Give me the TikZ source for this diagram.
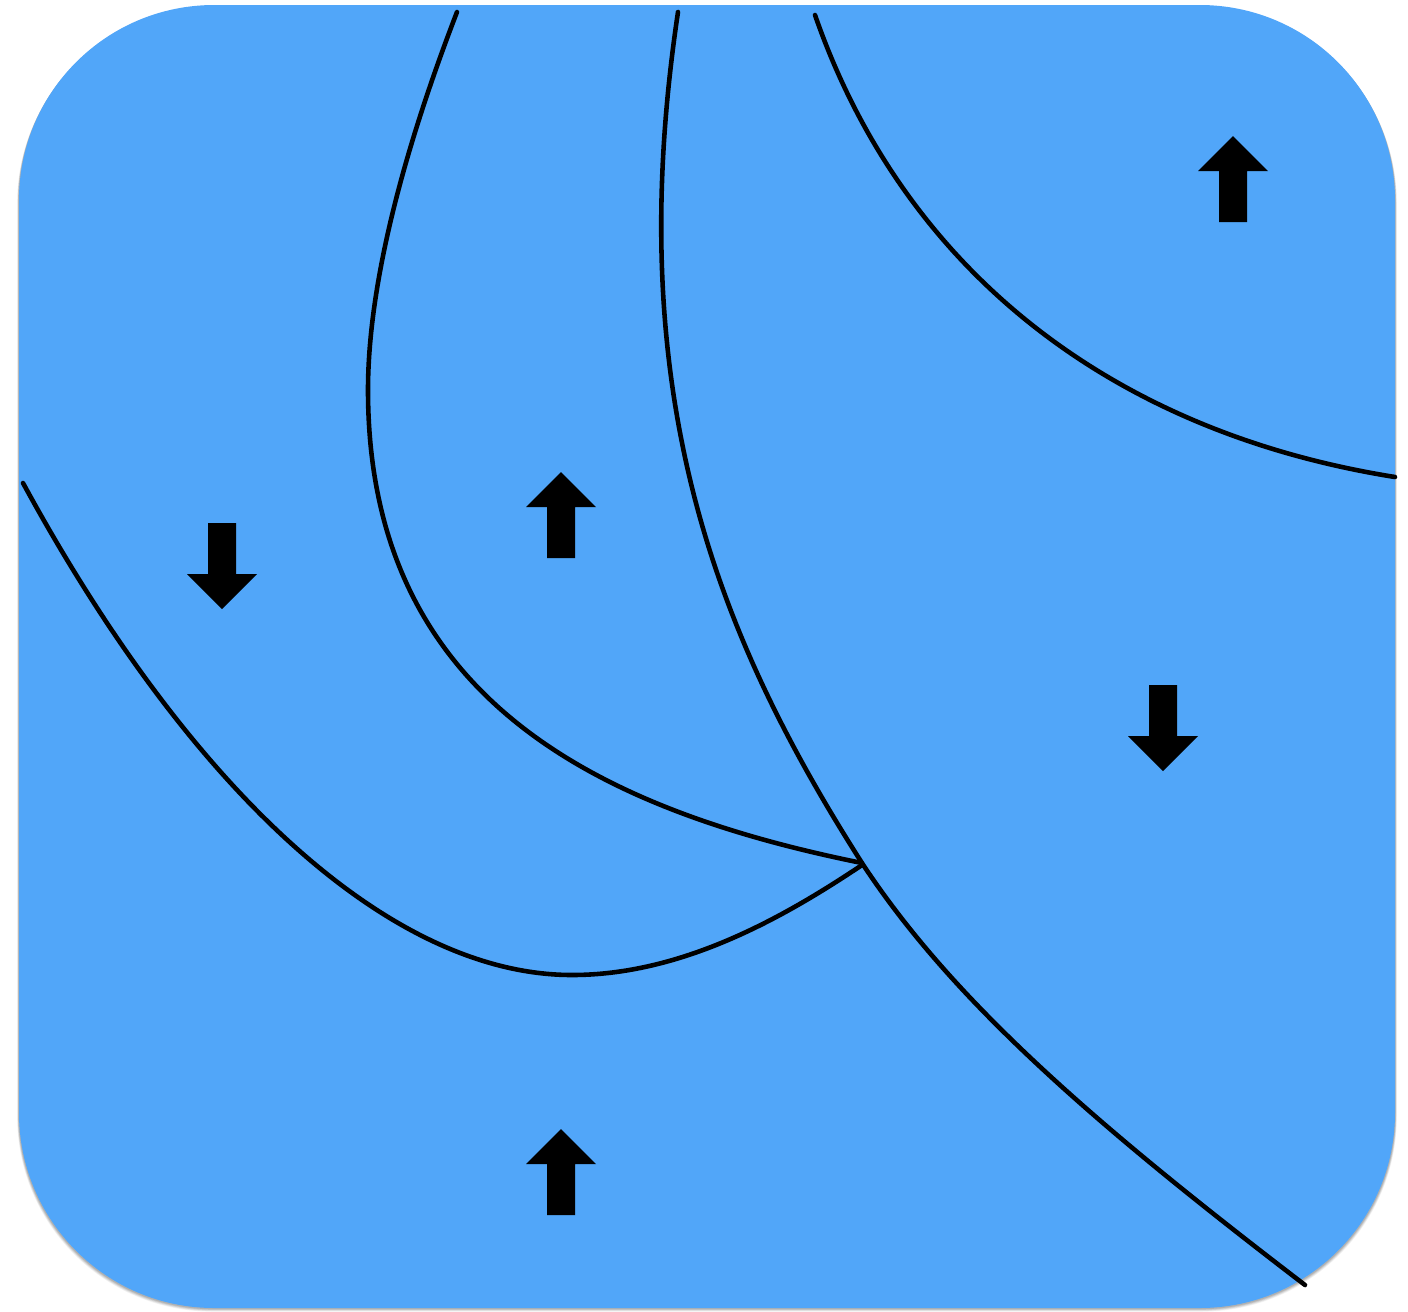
\documentclass[tikz,border=0pt]{standalone}
\begin{document}
\begin{tikzpicture}[x=0.01cm,y=-0.01cm,
  curve/.style={line width=1.3pt, line cap=round},
  panel/.style={fill=panelblue, rounded corners=1.95cm},
  pics/uparrow/.style={code={
    \fill[black] (0,-43) -- (35,-8) -- (14,-8) -- (14,43) -- (-14,43) -- (-14,-8) -- (-35,-8) -- cycle;}}]
\definecolor{panelblue}{RGB}{81,166,249}
\useasboundingbox (0,0) rectangle (1408,1311);
% soft shadow
\foreach \d/\o in {6/0.05,5/0.06,4/0.07,3/0.08,2/0.09}
  \fill[black, opacity=\o, rounded corners=1.95cm] (19-\d*0.3,5+\d*0.5) rectangle (1395+\d*0.3,1308+\d*0.6);
\fill[panel] (19,5) rectangle (1395,1308);
% curves
\draw[curve] (457,12) .. controls (400,160) and (368,290) .. (368,390)
  .. controls (368,700) and (600,810) .. (862,863);
\draw[curve] (678,12) .. controls (620,400) and (720,640) .. (862,863)
  .. controls (955,1005) and (1105,1132) .. (1305,1285);
\draw[curve] (23,483) .. controls (190,790) and (390,975) .. (572,975)
  .. controls (680,975) and (780,920) .. (862,865);
\draw[curve] (815,15) .. controls (900,260) and (1100,430) .. (1395,477);
% arrows
\pic at (1233,179) {uparrow};
\pic at (561,515) {uparrow};
\pic at (561,1172) {uparrow};
\pic[rotate=180] at (222,566) {uparrow};
\pic[rotate=180] at (1163,728) {uparrow};
\end{tikzpicture}
\end{document}
